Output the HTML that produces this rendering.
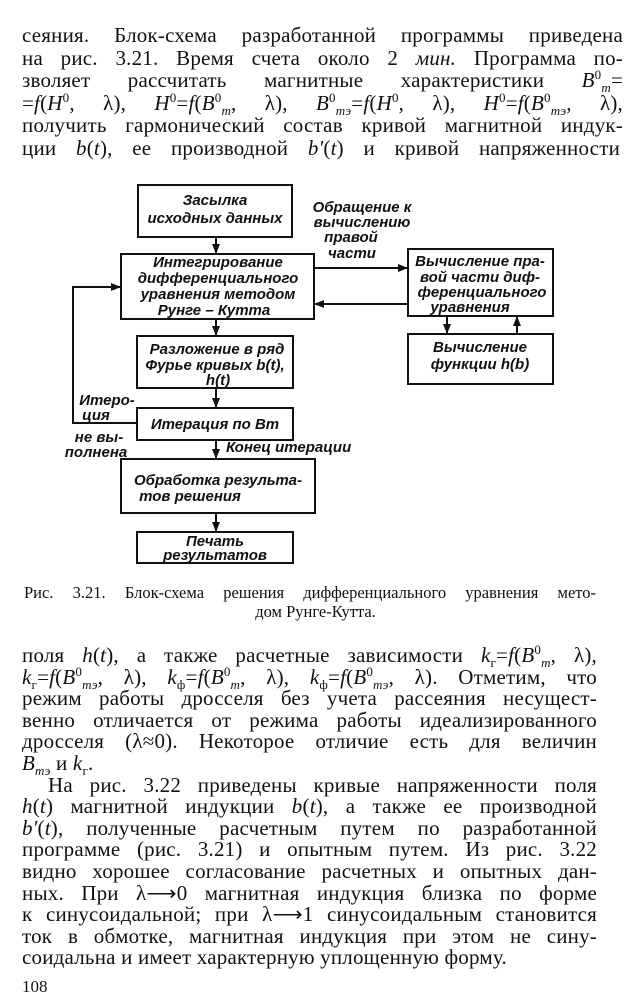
<!DOCTYPE html>
<html><head><meta charset="utf-8"><style>
body{margin:0;width:631px;height:1000px;background:#fff;position:relative;overflow:hidden;font-family:"Liberation Serif",serif;color:#111}
.l{position:absolute;font-size:21px;line-height:22px;text-align:justify;text-align-last:justify;white-space:nowrap;letter-spacing:0.2px}
i{font-style:italic}
sup,sub{font-size:13px;line-height:0}
.c{position:absolute;font-size:16.5px;line-height:20px;white-space:nowrap}
svg text{font-family:"Liberation Sans",sans-serif;font-style:italic;font-weight:bold;font-size:15px;fill:#111}
</style></head><body>
<div class="l" style="left:22px;top:24px;width:601px">сеяния. Блок-схема разработанной программы приведена</div>
<div class="l" style="left:22px;top:47px;width:601px">на рис. 3.21. Время счета около 2 <i>мин.</i> Программа по-</div>
<div class="l" style="left:22px;top:69px;width:601px">зволяет рассчитать магнитные характеристики <i>B</i><sup>0</sup><sub><i>m</i></sub>=</div>
<div class="l" style="left:22px;top:92px;width:601px">=<i>f</i>(<i>H</i><sup>0</sup>, λ), <i>H</i><sup>0</sup>=<i>f</i>(<i>B</i><sup>0</sup><sub><i>m</i></sub>, λ), <i>B</i><sup>0</sup><sub><i>mэ</i></sub>=<i>f</i>(<i>H</i><sup>0</sup>, λ), <i>H</i><sup>0</sup>=<i>f</i>(<i>B</i><sup>0</sup><sub><i>mэ</i></sub>, λ),</div>
<div class="l" style="left:22px;top:114px;width:601px">получить гармонический состав кривой магнитной индук-</div>
<div class="l" style="left:22px;top:137px;width:598px">ции <i>b</i>(<i>t</i>), ее производной <i>b′</i>(<i>t</i>) и кривой напряженности</div>

<svg width="631" height="580" style="position:absolute;left:0;top:0" xmlns="http://www.w3.org/2000/svg">
<defs><marker id="a" markerWidth="10" markerHeight="8" refX="9" refY="4" orient="auto" markerUnits="userSpaceOnUse"><path d="M0,0 L10,4 L0,8 Z" fill="#111"/></marker></defs>
<g fill="none" stroke="#111" stroke-width="2">
<rect x="138" y="185" width="154" height="52"/>
<rect x="121" y="254" width="193" height="65"/>
<rect x="137" y="336" width="156" height="52"/>
<rect x="137" y="408" width="156" height="32"/>
<rect x="121" y="459" width="194" height="54"/>
<rect x="137" y="532" width="156" height="31"/>
<rect x="408" y="249" width="145" height="67"/>
<rect x="408" y="334" width="145" height="50"/>
<line x1="216" y1="237" x2="216" y2="253" marker-end="url(#a)"/>
<line x1="216" y1="319" x2="216" y2="335" marker-end="url(#a)"/>
<line x1="216" y1="388" x2="216" y2="407" marker-end="url(#a)"/>
<line x1="216" y1="440" x2="216" y2="458" marker-end="url(#a)"/>
<line x1="216" y1="513" x2="216" y2="531" marker-end="url(#a)"/>
<line x1="314" y1="268" x2="407" y2="268" marker-end="url(#a)"/>
<line x1="408" y1="304" x2="315" y2="304" marker-end="url(#a)"/>
<line x1="447" y1="316" x2="447" y2="333" marker-end="url(#a)"/>
<line x1="517" y1="334" x2="517" y2="317" marker-end="url(#a)"/>
<polyline points="137,423 73,423 73,287 120,287" marker-end="url(#a)"/>
</g>
<g text-anchor="middle">
<text x="215" y="205">Засылка</text>
<text x="215" y="223">исходных данных</text>
<text x="218" y="267">Интегрирование</text>
<text x="218" y="283">дифференциального</text>
<text x="218" y="299">уравнения методом</text>
<text x="214" y="315">Рунге – Кутта</text>
<text x="217" y="354">Разложение в ряд</text>
<text x="215" y="370">Фурье кривых b(t),</text>
<text x="218" y="385">h(t)</text>
<text x="215" y="429">Итерация по Bm</text>
<text x="218" y="485">Обработка результа-</text>
<text x="190" y="501">тов решения</text>
<text x="215" y="546">Печать</text>
<text x="215" y="560">результатов</text>
<text x="480" y="266">Вычисление пра-</text>
<text x="480" y="282">вой части диф-</text>
<text x="482" y="297">ференциального</text>
<text x="470" y="312">уравнения</text>
<text x="480" y="352">Вычисление</text>
<text x="480" y="369">функции h(b)</text>
<text x="362" y="212">Обращение к</text>
<text x="362" y="227">вычислению</text>
<text x="351" y="242">правой</text>
<text x="352" y="258">части</text>
<text x="107" y="405">Итеро-</text>
<text x="96" y="420">ция</text>
<text x="99" y="442">не вы-</text>
<text x="96" y="457">полнена</text>
</g>
<text x="226" y="452">Конец итерации</text>
</svg>

<div class="c" style="left:24px;top:583px;width:572px;text-align:justify;text-align-last:justify">Рис. 3.21. Блок-схема решения дифференциального уравнения мето-</div>
<div class="c" style="left:0;top:602px;width:631px;text-align:center">дом Рунге-Кутта.</div>

<div class="l" style="left:22px;top:644px;width:575px">поля <i>h</i>(<i>t</i>), а также расчетные зависимости <i>k</i><sub>г</sub>=<i>f</i>(<i>B</i><sup>0</sup><sub><i>m</i></sub>, λ),</div>
<div class="l" style="left:22px;top:666px;width:575px"><i>k</i><sub>г</sub>=<i>f</i>(<i>B</i><sup>0</sup><sub><i>mэ</i></sub>, λ), <i>k</i><sub>ф</sub>=<i>f</i>(<i>B</i><sup>0</sup><sub><i>m</i></sub>, λ), <i>k</i><sub>ф</sub>=<i>f</i>(<i>B</i><sup>0</sup><sub><i>mэ</i></sub>, λ). Отметим, что</div>
<div class="l" style="left:22px;top:687px;width:575px">режим работы дросселя без учета рассеяния несущест-</div>
<div class="l" style="left:22px;top:709px;width:575px">венно отличается от режима работы идеализированного</div>
<div class="l" style="left:22px;top:730px;width:575px">дросселя (λ≈0). Некоторое отличие есть для величин</div>
<div class="l" style="left:22px;top:752px;text-align-last:left"><i>B</i><sub><i>mэ</i></sub> и <i>k</i><sub>г</sub>.</div>
<div class="l" style="left:48px;top:774px;width:549px">На рис. 3.22 приведены кривые напряженности поля</div>
<div class="l" style="left:22px;top:795px;width:575px"><i>h</i>(<i>t</i>) магнитной индукции <i>b</i>(<i>t</i>), а также ее производной</div>
<div class="l" style="left:22px;top:817px;width:575px"><i>b′</i>(<i>t</i>), полученные расчетным путем по разработанной</div>
<div class="l" style="left:22px;top:838px;width:575px">программе (рис. 3.21) и опытным путем. Из рис. 3.22</div>
<div class="l" style="left:22px;top:860px;width:575px">видно хорошее согласование расчетных и опытных дан-</div>
<div class="l" style="left:22px;top:882px;width:575px">ных. При λ⟶0 магнитная индукция близка по форме</div>
<div class="l" style="left:22px;top:903px;width:575px">к синусоидальной; при λ⟶1 синусоидальным становится</div>
<div class="l" style="left:22px;top:925px;width:575px">ток в обмотке, магнитная индукция при этом не сину-</div>
<div class="l" style="left:22px;top:946px;text-align-last:left">соидальна и имеет характерную уплощенную форму.</div>
<div class="c" style="left:22px;top:977px;font-size:17px">108</div>
</body></html>
